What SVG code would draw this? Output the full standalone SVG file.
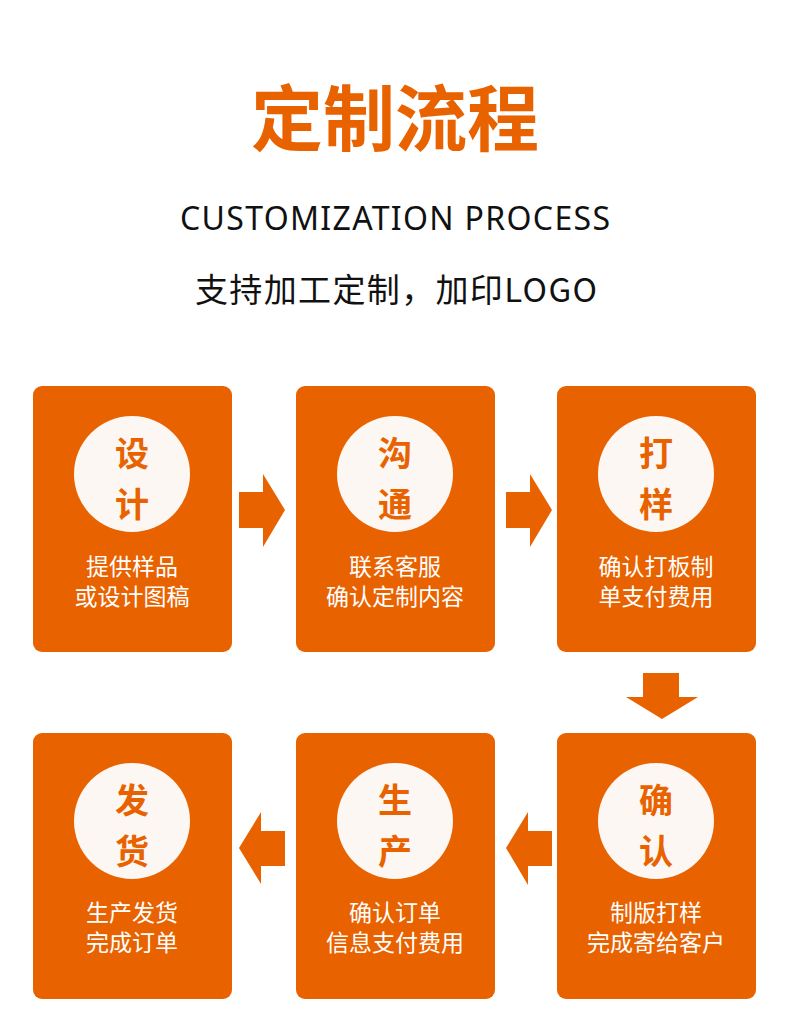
<svg xmlns="http://www.w3.org/2000/svg" width="790" height="1031" viewBox="0 0 790 1031">
<style>
.card{fill:#E96200}
.circ{fill:#FCF7F3}
.big{font-family:"Noto Sans CJK SC","Noto Sans",sans-serif;font-weight:bold;font-size:34px;fill:#E96200;text-anchor:middle}
.lbl{font-family:"Noto Sans CJK SC","Noto Sans",sans-serif;font-size:23px;fill:#FFFFFF;text-anchor:middle}
.arr{fill:#E96200}
</style>
<rect width="790" height="1031" fill="#FFFFFF"/>
<g id="title">
<text x="395" y="145" text-anchor="middle" font-family="Noto Sans CJK SC,sans-serif" font-weight="bold" font-size="72" fill="#E96200">定制流程</text>
<text x="395" y="230" text-anchor="middle" font-family="Noto Sans,Lato,sans-serif" font-size="32" fill="#111111" textLength="430">CUSTOMIZATION PROCESS</text>
<text x="396" y="302" text-anchor="middle" font-family="Noto Sans CJK SC,sans-serif" font-size="33" fill="#111111" textLength="402" lengthAdjust="spacing">支持加工定制，加印LOGO</text>
</g>
<g id="node-design">
<rect class="card" x="33" y="386" width="199" height="266" rx="9"/>
<circle class="circ" cx="132" cy="474" r="58"/>
<text class="big" x="132" y="466">设</text>
<text class="big" x="132" y="517">计</text>
<text class="lbl" x="132" y="575">提供样品</text>
<text class="lbl" x="132" y="605">或设计图稿</text>
</g>
<g id="node-communicate">
<rect class="card" x="296" y="386" width="199" height="266" rx="9"/>
<circle class="circ" cx="395" cy="474" r="58"/>
<text class="big" x="395" y="466">沟</text>
<text class="big" x="395" y="517">通</text>
<text class="lbl" x="395" y="575">联系客服</text>
<text class="lbl" x="395" y="605">确认定制内容</text>
</g>
<g id="node-sample">
<rect class="card" x="557" y="386" width="199" height="266" rx="9"/>
<circle class="circ" cx="656" cy="474" r="58"/>
<text class="big" x="656" y="466">打</text>
<text class="big" x="656" y="517">样</text>
<text class="lbl" x="656" y="575">确认打板制</text>
<text class="lbl" x="656" y="605">单支付费用</text>
</g>
<g id="node-confirm">
<rect class="card" x="557" y="733" width="199" height="266" rx="9"/>
<circle class="circ" cx="656" cy="821" r="58"/>
<text class="big" x="656" y="813">确</text>
<text class="big" x="656" y="864">认</text>
<text class="lbl" x="656" y="921">制版打样</text>
<text class="lbl" x="656" y="951">完成寄给客户</text>
</g>
<g id="node-produce">
<rect class="card" x="296" y="733" width="199" height="266" rx="9"/>
<circle class="circ" cx="395" cy="821" r="58"/>
<text class="big" x="395" y="813">生</text>
<text class="big" x="395" y="864">产</text>
<text class="lbl" x="395" y="921">确认订单</text>
<text class="lbl" x="395" y="951">信息支付费用</text>
</g>
<g id="node-ship">
<rect class="card" x="33" y="733" width="199" height="266" rx="9"/>
<circle class="circ" cx="132" cy="821" r="58"/>
<text class="big" x="132" y="813">发</text>
<text class="big" x="132" y="864">货</text>
<text class="lbl" x="132" y="921">生产发货</text>
<text class="lbl" x="132" y="951">完成订单</text>
</g>
<g id="connectors">
<polygon class="arr" points="239,492 263,492 263,474 285,510 263,547 263,528 239,528"/>
<polygon class="arr" points="506,492 530,492 530,474 552,510 530,547 530,528 506,528"/>
<polygon class="arr" points="643,673 679,673 679,697 698,697 662,719 626,697 643,697"/>
<polygon class="arr" points="552,831 528,831 528,812 506,848 528,885 528,866 552,866"/>
<polygon class="arr" points="285,831 261,831 261,812 239,848 261,884 261,866 285,866"/>
</g>
</svg>
